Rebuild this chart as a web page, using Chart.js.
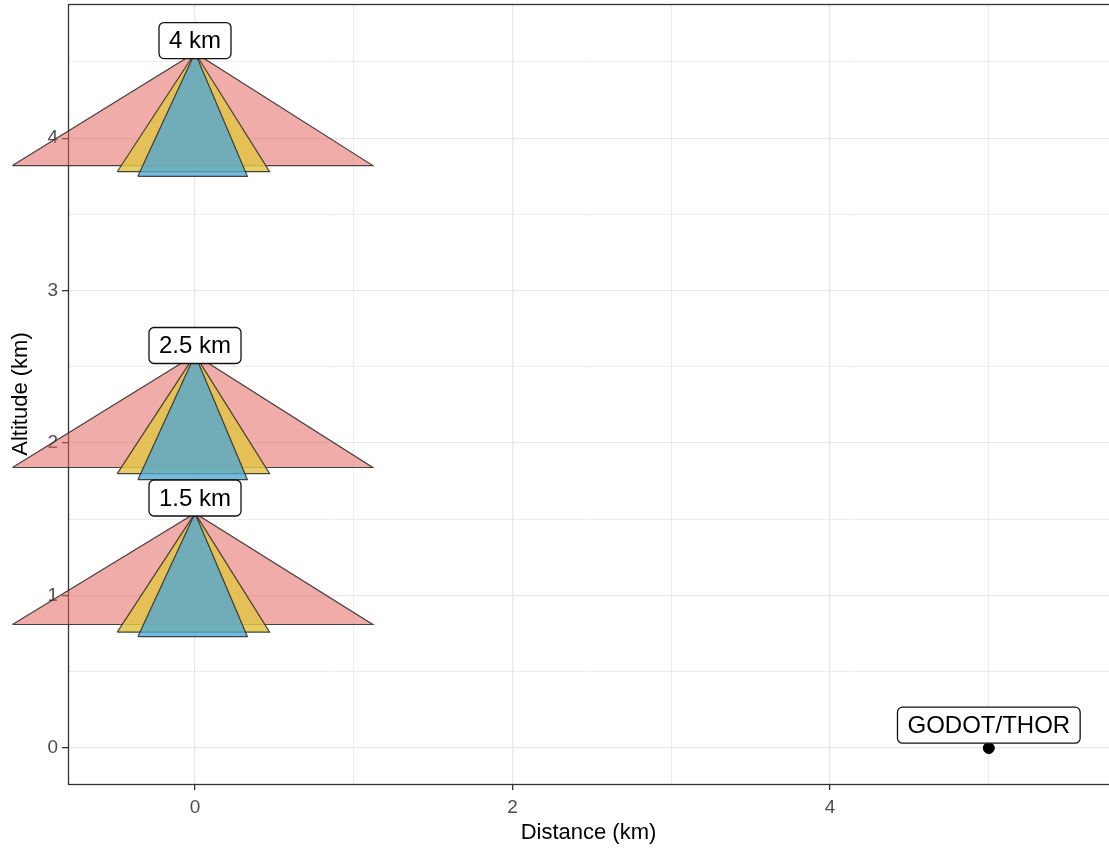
<!DOCTYPE html>
<html>
<head>
<meta charset="utf-8">
<script src="https://cdn.jsdelivr.net/npm/chart.js@4.4.1/dist/chart.umd.min.js"></script>
<style>
  html, body { margin: 0; padding: 0; background: #fff; overflow: hidden; }
  #wrap { width: 1109px; height: 849px; position: relative; }
</style>
</head>
<body>
<div id="wrap"><canvas id="chart"></canvas></div>
<script>
// data (km)
const coneLabels = ['4 km', '2.5 km', '1.5 km'];
const apexDistance = [0, 0, 0];
const apexAltitude = [4.56, 2.58, 1.54];
const labelAltitude = [4.64, 2.64, 1.64];
const outerBase = [3.82, 1.84, 0.81];
const middleBase = [3.78, 1.80, 0.76];
const innerBase = [3.75, 1.76, 0.73];
const outerSpan = [-1.15, 1.12];
const middleSpan = [-0.49, 0.47];
const innerSpan = [-0.36, 0.33];

const stationName = 'GODOT/THOR';
const stationDistance = 5;
const stationAltitude = 0;
const stationLabelAltitude = 0.15;

const xRange = [-0.8, 5.757];
const yRange = [-0.236, 4.88];

const FONT = "'Liberation Sans', Arial, sans-serif";

function triangle(i, span, base) {
    return [
        { x: span[0], y: base[i] },
        { x: apexDistance[i], y: apexAltitude[i] },
        { x: span[1], y: base[i] },
        { x: span[0], y: base[i] }
    ];
}

const layers = [
    { span: outerSpan, base: outerBase, color: 'rgba(227,104,96,0.55)', order: 3 },
    { span: middleSpan, base: middleBase, color: 'rgba(226,196,73,0.85)', order: 2 },
    { span: innerSpan, base: innerBase, color: 'rgba(80,168,212,0.78)', order: 1 }
];

const datasets = [];
coneLabels.forEach((name, i) => {
    layers.forEach(l => {
        datasets.push({
            label: name,
            data: triangle(i, l.span, l.base),
            showLine: true,
            fill: 'shape',
            backgroundColor: l.color,
            borderColor: 'rgba(40,40,40,0.85)',
            borderWidth: 1.2,
            pointRadius: 0,
            tension: 0,
            clip: false,
            order: l.order
        });
    });
});
datasets.push({
    label: stationName,
    data: [{ x: stationDistance, y: stationAltitude }],
    showLine: false,
    pointRadius: 5.5,
    backgroundColor: '#000',
    borderColor: '#000',
    clip: false,
    order: 0
});

const isWhole = v => Math.abs(v - Math.round(v)) < 1e-6;

// panel border + lets the cones spill over the panel edge
const panel = {
    id: 'panel',
    beforeDatasetsDraw(chart) {
        const a = chart.chartArea;
        const ctx = chart.ctx;
        ctx.save();
        ctx.strokeStyle = '#333';
        ctx.lineWidth = 1.3;
        ctx.strokeRect(a.left + 0.5, a.top + 0.5, a.right - a.left + 20, a.bottom - a.top);
        ctx.restore();
        chart._savedArea = a;
        chart.chartArea = { left: 0, top: 0, right: chart.width, bottom: chart.height, width: chart.width, height: chart.height };
    },
    afterDatasetsDraw(chart) {
        if (chart._savedArea) chart.chartArea = chart._savedArea;
        const x = chart.scales.x, y = chart.scales.y;
        const ctx = chart.ctx;
        const boxes = coneLabels.map((t, i) => [t, apexDistance[i], labelAltitude[i]]);
        boxes.push([stationName, stationDistance, stationLabelAltitude]);
        ctx.save();
        ctx.font = '24px ' + FONT;
        ctx.textAlign = 'center';
        ctx.textBaseline = 'middle';
        boxes.forEach(([t, dx, dy]) => {
            const px = x.getPixelForValue(dx), py = y.getPixelForValue(dy);
            const w = ctx.measureText(t).width + 20, h = 36;
            ctx.beginPath();
            ctx.roundRect(px - w / 2, py - h / 2, w, h, 5);
            ctx.fillStyle = '#fff';
            ctx.fill();
            ctx.strokeStyle = '#111';
            ctx.lineWidth = 1.3;
            ctx.stroke();
            ctx.fillStyle = '#000';
            ctx.fillText(t, px, py + 1);
        });
        ctx.restore();
    }
};

new Chart(document.getElementById('chart'), {
    type: 'scatter',
    data: { datasets },
    options: {
        responsive: true,
        maintainAspectRatio: false,
        animation: false,
        layout: { autoPadding: false, padding: { top: 4, left: 0, right: 0, bottom: 0 } },
        plugins: {
            legend: { display: false },
            tooltip: { enabled: false }
        },
        scales: {
            x: {
                type: 'linear',
                min: xRange[0],
                max: xRange[1],
                afterFit: s => { s.height = 65; s.paddingLeft = 0; s.paddingRight = 0; },
                border: { display: false },
                grid: {
                    color: '#e8e8e8',
                    lineWidth: c => (c.tick && isWhole(c.tick.value / 2)) ? 1.3 : 0.8,
                    tickLength: 6,
                    tickColor: c => (c.tick && isWhole(c.tick.value / 2)) ? '#333' : 'rgba(0,0,0,0)'
                },
                ticks: {
                    stepSize: 1,
                    includeBounds: false,
                    autoSkip: false,
                    maxRotation: 0,
                    padding: 6,
                    color: '#4d4d4d',
                    font: { family: FONT, size: 19 },
                    callback: v => isWhole(v / 2) ? String(v) : ''
                },
                title: {
                    display: true,
                    text: 'Distance (km)',
                    color: '#000',
                    font: { family: FONT, size: 22 },
                    padding: { top: 0, bottom: 3 }
                }
            },
            y: {
                type: 'linear',
                min: yRange[0],
                max: yRange[1],
                afterFit: s => { s.width = 68; s.paddingTop = 0; s.paddingBottom = 0; },
                border: { display: false },
                grid: {
                    color: '#e8e8e8',
                    lineWidth: c => (c.tick && isWhole(c.tick.value)) ? 1.3 : 0.8,
                    tickLength: 6,
                    tickColor: c => (c.tick && isWhole(c.tick.value)) ? '#333' : 'rgba(0,0,0,0)'
                },
                ticks: {
                    stepSize: 0.5,
                    includeBounds: false,
                    autoSkip: false,
                    padding: 4,
                    color: '#4d4d4d',
                    font: { family: FONT, size: 19 },
                    callback: v => isWhole(v) ? String(v) : ''
                },
                title: {
                    display: true,
                    text: 'Altitude (km)',
                    color: '#000',
                    font: { family: FONT, size: 22 },
                    padding: { top: 8, bottom: 0 }
                }
            }
        }
    },
    plugins: [panel]
});
</script>
</body>
</html>
